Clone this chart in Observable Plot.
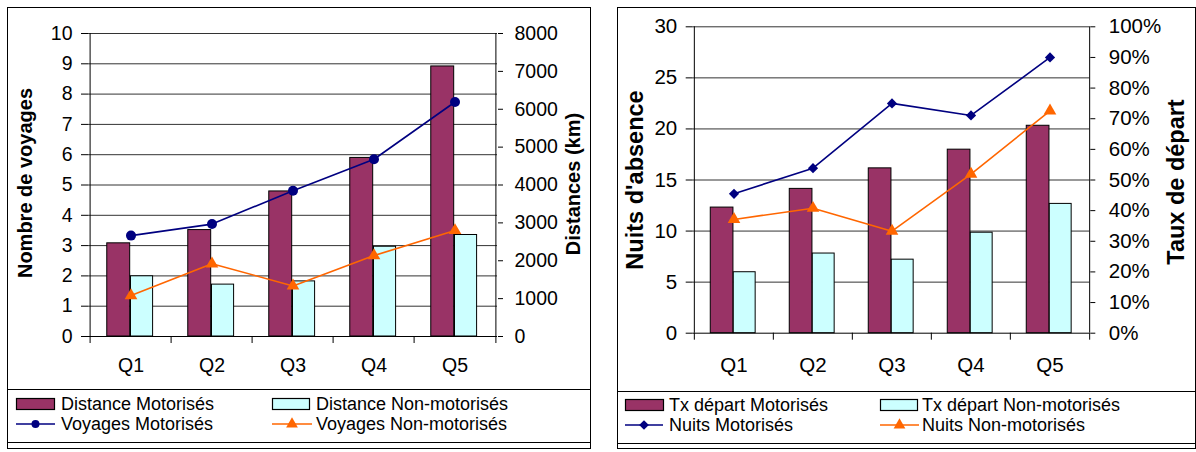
<!DOCTYPE html>
<html><head><meta charset="utf-8">
<script src="https://cdn.jsdelivr.net/npm/d3@7"></script>
<script src="https://cdn.jsdelivr.net/npm/@observablehq/plot@0.6"></script>
<style>
body{margin:0;background:#fff;width:1196px;height:452px;position:relative;overflow:hidden;font-family:"Liberation Sans",Arial,sans-serif;color:#000;}
.box{position:absolute;border:1px solid #000;box-sizing:border-box;}
.hline{position:absolute;height:0;border-top:1px solid #000;}
.ytitle{position:absolute;font-weight:bold;white-space:nowrap;line-height:1;transform:translate(-50%,-50%) rotate(-90deg);}
.legtext{position:absolute;font-size:18px;line-height:20px;white-space:nowrap;}
.plotwrap{position:absolute;top:0;}
</style></head><body>
<script>
// ---------- data ----------
const quarters = ["Q1", "Q2", "Q3", "Q4", "Q5"];
// left chart
const distanceMotorises = [2460, 2810, 3830, 4715, 7130];
const distanceNonMotorises = [1590, 1370, 1455, 2370, 2680];
const voyagesMotorises = [3.33, 3.71, 4.81, 5.85, 7.74];
const voyagesNonMotorises = [1.35, 2.40, 1.67, 2.67, 3.50];
const voyagesTicks = [0, 1, 2, 3, 4, 5, 6, 7, 8, 9, 10];
const distanceTicks = [0, 1000, 2000, 3000, 4000, 5000, 6000, 7000, 8000];
// right chart
const txDepartMotorises = [0.41, 0.471, 0.538, 0.599, 0.677];
const txDepartNonMotorises = [0.199, 0.26, 0.24, 0.328, 0.422];
const nuitsMotorises = [13.65, 16.16, 22.5, 21.32, 27.0];
const nuitsNonMotorises = [11.14, 12.24, 9.99, 15.57, 21.78];
const nuitsTicks = [0, 5, 10, 15, 20, 25, 30];
const tauxTicks = [0, 0.1, 0.2, 0.3, 0.4, 0.5, 0.6, 0.7, 0.8, 0.9, 1];

const leftLegend = ["Distance Motorisés", "Distance Non-motorisés", "Voyages Motorisés", "Voyages Non-motorisés"];
const rightLegend = ["Tx départ Motorisés", "Tx départ Non-motorisés", "Nuits Motorisés", "Nuits Non-motorisés"];

const C_BAR_A = "#993366", C_BAR_B = "#CCFFFF", C_LINE_A = "#000080", C_LINE_B = "#FF6600";

function el(tag, cls, css, text) {
  const e = document.createElement(tag);
  if (cls) e.className = cls;
  Object.assign(e.style, css || {});
  if (text != null) e.textContent = text;
  document.body.appendChild(e);
  return e;
}

function panel(cfg) {
  const {left, width, height, mL, mR, mT, mB, leftTicks, rightTicks, rightFmt,
         barsA, barsB, linesA, linesB, symA, rA, fontSize, xPad, rTickPad} = cfg;
  const yMax = leftTicks[leftTicks.length - 1];
  const factor = yMax / rightTicks[rightTicks.length - 1];
  const band = (width - mL - mR) / quarters.length;
  const rows = quarters.map((q, i) => ({q, a: barsA[i], b: barsB[i], la: linesA[i], lb: linesB[i]}));
  const svg = Plot.plot({
    width, height,
    marginLeft: mL, marginRight: mR, marginTop: mT, marginBottom: mB,
    style: {fontFamily: "'Liberation Sans', Arial, sans-serif", fontSize: fontSize + "px", color: "#000", background: "transparent", overflow: "visible"},
    x: {type: "band", domain: quarters, padding: 0},
    y: {domain: [0, yMax]},
    marks: [
      Plot.ruleY(leftTicks.filter(d => d > 0), {stroke: "#333", strokeWidth: 1}),
      Plot.barY(rows, {x: "q", y: d => d.a * factor, fill: C_BAR_A, stroke: "#000", strokeWidth: 1,
        insetLeft: band * 0.205, insetRight: band * 0.505}),
      Plot.barY(rows, {x: "q", y: d => d.b * factor, fill: C_BAR_B, stroke: "#000", strokeWidth: 1,
        insetLeft: band * 0.495, insetRight: band * 0.225}),
      Plot.ruleY([0], {stroke: "#000"}),
      Plot.ruleX([quarters[0]], {y1: 0, y2: yMax, dx: -band / 2, stroke: "#000"}),
      Plot.ruleX([quarters[quarters.length - 1]], {y1: 0, y2: yMax, dx: band / 2, stroke: "#000"}),
      Plot.line(rows, {x: "q", y: "la", stroke: C_LINE_A, strokeWidth: 1.6}),
      Plot.line(rows, {x: "q", y: "lb", stroke: C_LINE_B, strokeWidth: 1.6}),
      Plot.dot(rows, {x: "q", y: "la", symbol: symA, r: rA, fill: C_LINE_A, stroke: "none"}),
      Plot.dot(rows, {x: "q", y: "lb", symbol: "triangle", r: 4.7, fill: C_LINE_B, stroke: "none"}),
      Plot.axisY({anchor: "left", ticks: leftTicks, tickSize: 7, tickPadding: 9, label: null, tickFormat: d => d}),
      Plot.axisY({anchor: "right", ticks: rightTicks.map(v => v * factor), tickSize: 5, tickPadding: rTickPad, label: null,
        tickFormat: d => rightFmt(Math.round(d / factor * 1000) / 1000)}),
      Plot.axisX({tickSize: 0, tickPadding: xPad, label: null}),
      Plot.axisX({tickSize: 7, tickPadding: 0, label: null, tickFormat: () => "", dx: -band / 2}),
      Plot.axisX({ticks: [quarters[quarters.length - 1]], tickSize: 7, tickPadding: 0, label: null, tickFormat: () => "", dx: band / 2})
    ]
  });
  const wrap = el("div", "plotwrap", {left: left + "px"});
  wrap.appendChild(svg);
}

function legend(items, defs) {
  defs.forEach((d, i) => {
    const s = d3.create("svg").attr("width", d.w + 2).attr("height", 20)
      .style("position", "absolute").style("left", d.x + "px").style("top", (d.y - 10) + "px").style("overflow", "visible");
    if (d.kind === "bar") {
      s.append("rect").attr("x", 0.5).attr("y", 4.5).attr("width", d.w).attr("height", 11)
        .attr("fill", d.color).attr("stroke", "#000").attr("stroke-width", 1.2);
    } else {
      s.append("line").attr("x1", 0).attr("x2", d.w).attr("y1", 10).attr("y2", 10)
        .attr("stroke", d.color).attr("stroke-width", 1.5);
      s.append("path").attr("transform", `translate(${d.w / 2},10)`)
        .attr("d", d3.symbol(d.sym, d.size)()).attr("fill", d.color);
    }
    document.body.appendChild(s.node());
    el("div", "legtext", {left: d.tx + "px", top: (d.y - 10) + "px"}, items[i]);
  });
}

// ---------- left chart ----------
el("div", "box", {left: "7px", top: "7px", width: "584px", height: "442px"});
el("div", "hline", {left: "7px", top: "389px", width: "584px"});
el("div", "hline", {left: "7px", top: "442px", width: "584px"});
panel({left: 0, width: 596, height: 380, mL: 88, mR: 99, mT: 33, mB: 44,
  leftTicks: voyagesTicks, rightTicks: distanceTicks, rightFmt: v => String(v),
  barsA: distanceMotorises, barsB: distanceNonMotorises, linesA: voyagesMotorises, linesB: voyagesNonMotorises,
  symA: "circle", rA: 5, fontSize: 19.5, xPad: 22, rTickPad: 12});
el("div", "ytitle", {left: "25px", top: "183px", fontSize: "20px"}, "Nombre de voyages");
el("div", "ytitle", {left: "573px", top: "184px", fontSize: "20px"}, "Distances (km)");
legend(leftLegend, [
  {kind: "bar", color: C_BAR_A, x: 16, w: 38, y: 404, tx: 61},
  {kind: "bar", color: C_BAR_B, x: 272, w: 37, y: 404, tx: 316},
  {kind: "line", color: C_LINE_A, x: 16, w: 39, y: 424, tx: 61, sym: d3.symbolCircle, size: 50},
  {kind: "line", color: C_LINE_B, x: 272, w: 40, y: 424, tx: 316, sym: d3.symbolTriangle, size: 60}
]);

// ---------- right chart ----------
el("div", "box", {left: "617px", top: "7px", width: "579px", height: "442px"});
el("div", "hline", {left: "617px", top: "391px", width: "579px"});
el("div", "hline", {left: "617px", top: "443px", width: "579px"});
panel({left: 600, width: 596, height: 380, mL: 92.7, mR: 106.7, mT: 26.3, mB: 47.3,
  leftTicks: nuitsTicks, rightTicks: tauxTicks, rightFmt: v => Math.round(v * 100) + "%",
  barsA: txDepartMotorises, barsB: txDepartNonMotorises, linesA: nuitsMotorises, linesB: nuitsNonMotorises,
  symA: "diamond2", rA: 4.6, fontSize: 20.5, xPad: 24, rTickPad: 14});
el("div", "ytitle", {left: "636px", top: "180px", fontSize: "23.5px"}, "Nuits d'absence");
el("div", "ytitle", {left: "1177px", top: "182px", fontSize: "23.5px"}, "Taux de départ");
legend(rightLegend, [
  {kind: "bar", color: C_BAR_A, x: 625, w: 38, y: 405, tx: 669},
  {kind: "bar", color: C_BAR_B, x: 880, w: 37, y: 405, tx: 922},
  {kind: "line", color: C_LINE_A, x: 625, w: 38, y: 425, tx: 669, sym: d3.symbolDiamond2, size: 60},
  {kind: "line", color: C_LINE_B, x: 880, w: 39, y: 425, tx: 922, sym: d3.symbolTriangle, size: 60}
]);
</script>
</body></html>
